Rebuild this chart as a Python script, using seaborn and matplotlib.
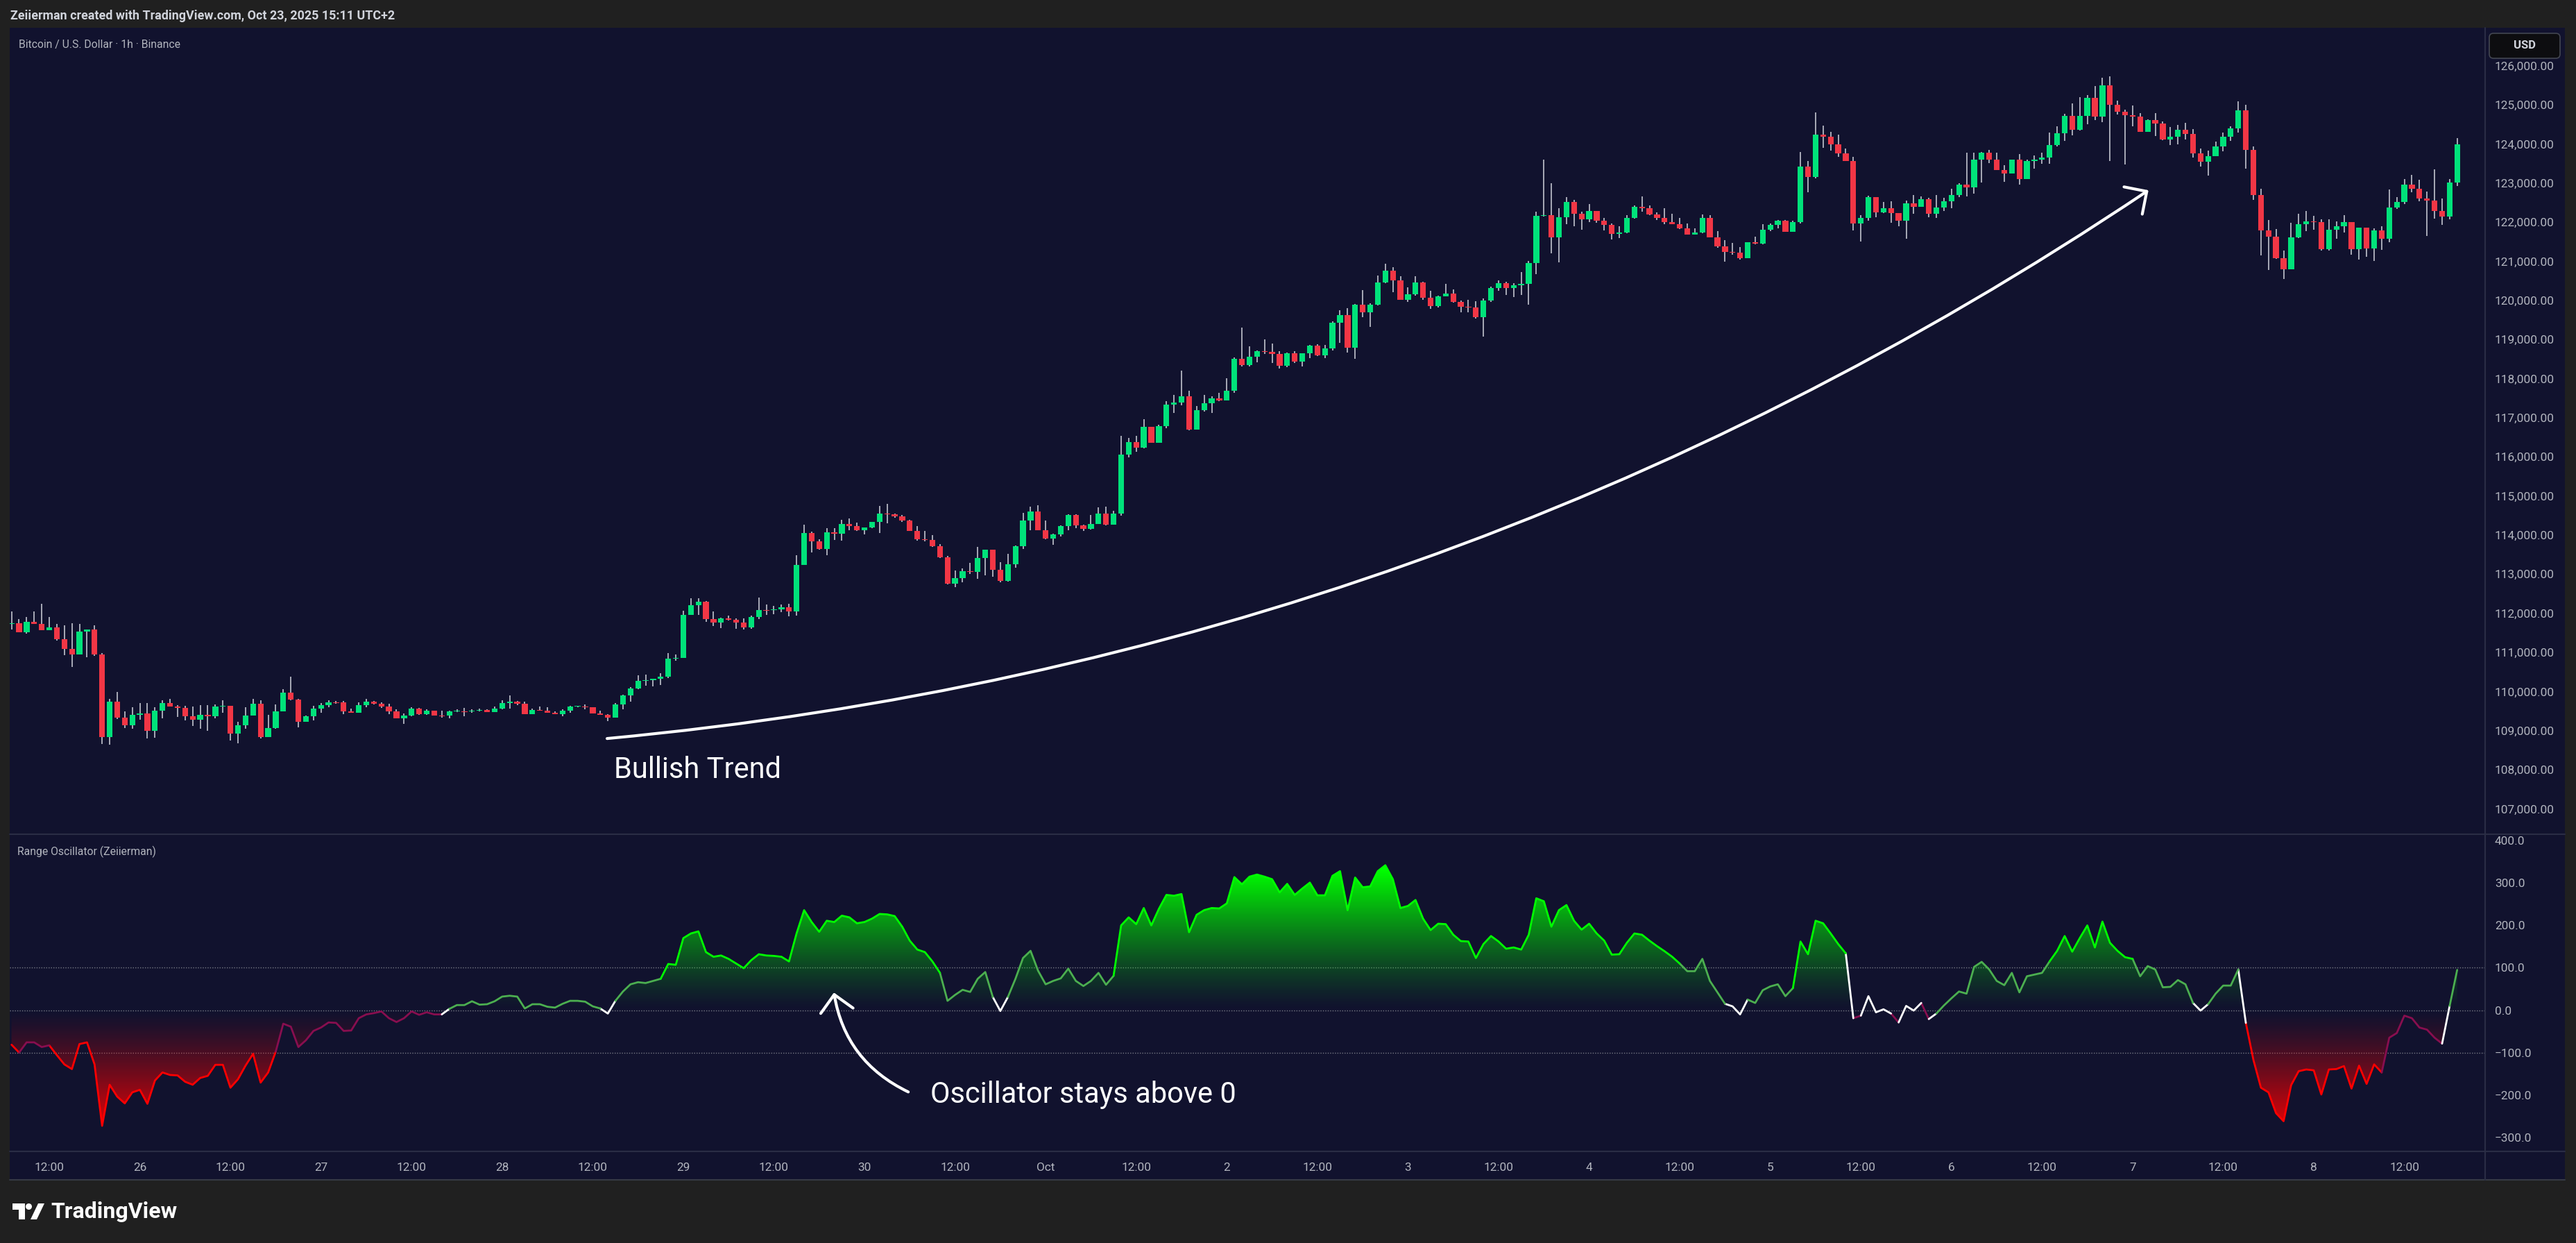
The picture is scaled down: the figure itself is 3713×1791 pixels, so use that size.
import numpy as np
import pandas as pd
import matplotlib
matplotlib.use("Agg")
import matplotlib.pyplot as plt
import seaborn as sns
from matplotlib import transforms
from matplotlib.patches import Rectangle, Circle, Polygon, FancyBboxPatch, PathPatch
from matplotlib.path import Path
from matplotlib.lines import Line2D

# %%
# BTCUSD 1h candles, Sep 25 07:00 -> Oct 8 19:00 (one value per bar)
first_open = 111720
closes = [
  111739, 111520, 111780, 111733, 111573, 111639, 111343, 111094, 110952, 111532,
  111580, 110952, 108840, 109740, 109338, 109136, 109403, 109438, 109000, 109509,
  109704, 109621, 109580, 109367, 109278, 109403, 109367, 109615, 109633, 108929,
  109130, 109379, 109686, 108840, 109059, 109491, 109970, 109799, 109231, 109367,
  109562, 109651, 109722, 109720, 109497, 109462, 109651, 109740, 109686, 109621,
  109497, 109320, 109385, 109562, 109420, 109509, 109390, 109385, 109491, 109500,
  109495, 109510, 109520, 109480, 109562, 109704, 109740, 109692, 109420, 109527,
  109515, 109462, 109420, 109509, 109615, 109620, 109600, 109438, 109403, 109338,
  109669, 109899, 110077, 110266, 110290, 110325, 110385, 110840, 110864, 111960,
  112205, 112292, 111855, 111766, 111867, 111836, 111754, 111640, 111899, 112083,
  112075, 112100, 112159, 112051, 113230, 114054, 113845, 113649, 114067, 114041,
  114282, 114238, 114124, 114194, 114333, 114548, 114530, 114479, 114377, 114111,
  113896, 113883, 113706, 113439, 112755, 112900, 113078, 113053, 113414, 113623,
  113103, 112825, 113249, 113712, 114371, 114599, 114130, 113908, 114010, 114232,
  114510, 114244, 114162, 114282, 114549, 114271, 114549, 116052, 116377, 116241,
  116767, 116365, 116785, 117335, 117389, 117548, 116697, 117194, 117371, 117495,
  117442, 117690, 118506, 118353, 118560, 118702, 118684, 118631, 118335, 118648,
  118442, 118648, 118843, 118595, 118773, 119429, 119624, 118790, 119891, 119695,
  119891, 120458, 120760, 120512, 120015, 120157, 120458, 120068, 119855, 120104,
  120175, 119962, 119837, 119825, 119571, 119997, 120317, 120441, 120317, 120387,
  120423, 120955, 122162, 122180, 121612, 122126, 122517, 122215, 122073, 122286,
  122038, 121931, 121700, 121736, 122109, 122393, 122357, 122198, 122109, 122002,
  121949, 121843, 121683, 121736, 122109, 121612, 121381, 121239, 121225, 121080,
  121488, 121452, 121807, 121931, 122038, 121754, 122002, 123422, 123156, 124238,
  124185, 123990, 123759, 123564, 121967, 122109, 122641, 122251, 122357, 122233,
  122038, 122481, 122393, 122588, 122216, 122375, 122535, 122694, 122960, 122889,
  123599, 123777, 123599, 123333, 123245, 123599, 123102, 123564, 123599, 123653,
  123972, 124274, 124717, 124362, 124717, 125179, 124700, 125498, 125001, 124824,
  124735, 124700, 124309, 124611, 124522, 124114, 124185, 124362, 124256, 123759,
  123546, 123688, 123936, 124185, 124398, 124859, 123848, 122694, 121789, 121630,
  121080, 120796, 121612, 121949, 122020, 122002, 121310, 121807, 121896, 122002,
  121310, 121860, 121328, 121789, 121576, 122375, 122517, 122960, 122854, 122606,
  122552, 122286, 122144, 123014, 123990,
]
highs = [
  112047, 111857, 111905, 112047, 112242, 111905, 111727, 111692, 111745, 111727,
  111591, 111692, 110982, 109817, 109988, 109491, 109598, 109710, 109710, 109598,
  109775, 109805, 109651, 109639, 109621, 109651, 109651, 109669, 109769, 109615,
  109225, 109592, 109805, 109769, 109403, 109669, 110065, 110379, 109811, 109391,
  109627, 109698, 109775, 109757, 109757, 109562, 109728, 109805, 109757, 109728,
  109680, 109550, 109438, 109598, 109580, 109550, 109509, 109509, 109509, 109550,
  109580, 109544, 109556, 109550, 109609, 109781, 109899, 109757, 109740, 109556,
  109609, 109603, 109497, 109544, 109639, 109639, 109669, 109597, 109509, 109420,
  109698, 109911, 110112, 110408, 110432, 110313, 110467, 110982, 110953, 112064,
  112384, 112387, 112318, 112045, 111887, 111944, 111867, 111861, 111944, 112394,
  112229, 112185, 112216, 112248, 113484, 114263, 114086, 113896, 114181, 114181,
  114384, 114422, 114327, 114181, 114333, 114739, 114796, 114549, 114511, 114384,
  114232, 114105, 113991, 113769, 113465, 113091, 113154, 113293, 113693, 113623,
  113610, 113306, 113515, 113737, 114561, 114720, 114764, 114371, 114041, 114244,
  114530, 114530, 114263, 114511, 114715, 114727, 114620, 116537, 116489, 116537,
  116962, 116750, 116827, 117418, 117584, 118205, 117684, 117300, 117578, 117543,
  117637, 118010, 118542, 119305, 118832, 118720, 119004, 118897, 118702, 118673,
  118702, 118643, 118868, 118880, 118868, 119459, 119755, 119802, 119908, 120269,
  119932, 120642, 120938, 120849, 120618, 120334, 120618, 120476, 120245, 120127,
  120417, 120275, 120003, 120015, 119979, 120050, 120346, 120512, 120476, 120435,
  120724, 121008, 122268, 123600, 123000, 122357, 122641, 122564, 122274, 122464,
  122286, 122109, 121961, 121896, 122180, 122428, 122659, 122428, 122251, 122357,
  122216, 122109, 121967, 121849, 122204, 122180, 121766, 121541, 121470, 121364,
  121494, 121630, 121943, 121973, 122062, 122056, 122038, 123794, 123564, 124806,
  124469, 124309, 124238, 123883, 123670, 122180, 122683, 122641, 122517, 122535,
  122233, 122552, 122694, 122659, 122623, 122694, 122623, 122854, 122996, 123777,
  123777, 123795, 123848, 123777, 123458, 123599, 123742, 123599, 123706, 123777,
  124291, 124451, 124771, 125037, 125197, 125250, 125480, 125693, 125729, 125108,
  124877, 124983, 124789, 124629, 124789, 124575, 124433, 124487, 124540, 124380,
  123883, 123830, 124061, 124291, 124451, 125090, 125001, 123936, 122854, 122056,
  121825, 121275, 121985, 122216, 122286, 122162, 122073, 122073, 122020, 122180,
  121985, 121860, 121825, 121843, 121896, 122836, 122641, 123102, 123209, 123085,
  122783, 123351, 122606, 123102, 124149,
]
lows = [
  111591, 111520, 111473, 111733, 111573, 111580, 111295, 110923, 110633, 110952,
  110881, 110911, 108663, 108645, 109296, 109059, 109047, 109284, 108805, 108823,
  109314, 109609, 109343, 109255, 109124, 109047, 108988, 109314, 109450, 108752,
  108681, 109047, 109403, 108800, 108840, 109047, 109491, 109781, 109089, 109225,
  109255, 109450, 109592, 109680, 109420, 109450, 109462, 109598, 109669, 109580,
  109420, 109320, 109166, 109367, 109403, 109403, 109385, 109326, 109308, 109473,
  109367, 109462, 109497, 109473, 109473, 109550, 109568, 109651, 109420, 109420,
  109509, 109491, 109420, 109367, 109462, 109592, 109550, 109438, 109403, 109249,
  109338, 109550, 109746, 110060, 110142, 110124, 110172, 110349, 110793, 110852,
  111958, 111963, 111772, 111677, 111627, 111817, 111595, 111582, 111608, 111855,
  111950, 111975, 112026, 111931, 111944, 113230, 113560, 113623, 113484, 113877,
  113864, 114118, 114105, 114022, 114168, 114054, 114308, 114435, 114333, 114105,
  113851, 113832, 113693, 113420, 112736, 112660, 112799, 113008, 112882, 112977,
  112933, 112799, 112818, 113167, 113649, 114118, 114118, 113889, 113750, 113959,
  114130, 114168, 114105, 114149, 114313, 114242, 114266, 114490, 115981, 116129,
  116223, 116353, 116353, 116738, 117122, 117318, 116679, 117182, 117164, 117122,
  117430, 117448, 117637, 118305, 118305, 118424, 118631, 118394, 118264, 118299,
  118406, 118317, 118524, 118572, 118524, 118720, 118915, 118660, 118512, 119577,
  119329, 119873, 120435, 120216, 120015, 119962, 120127, 120021, 119790, 119814,
  120110, 119950, 119695, 119695, 119536, 119080, 119962, 120252, 120139, 120092,
  120139, 119891, 120671, 122150, 121204, 120979, 121955, 121896, 121807, 122002,
  121990, 121795, 121559, 121588, 121718, 122091, 122268, 122180, 122062, 121955,
  121943, 121825, 121683, 121683, 121718, 121612, 121352, 120997, 121174, 121044,
  121080, 121435, 121435, 121766, 121849, 121754, 121754, 121967, 122771, 123126,
  123907, 123836, 123676, 123564, 121795, 121512, 122032, 122133, 122233, 121990,
  121902, 121576, 122216, 122393, 122133, 122109, 122286, 122357, 122641, 122665,
  122736, 123020, 123511, 123333, 123038, 123262, 122967, 123102, 123375, 123499,
  123493, 123937, 124079, 124221, 124345, 124505, 124611, 124558, 123564, 124753,
  123475, 124451, 124309, 124309, 124203, 124096, 123972, 123990, 124114, 123653,
  123422, 123191, 123706, 123812, 124079, 124291, 123369, 122570, 121151, 120778,
  121062, 120548, 120796, 121594, 121772, 121807, 121275, 121275, 121576, 121736,
  121174, 121044, 121115, 121008, 121293, 121488, 122340, 122464, 122765, 122535,
  121647, 122091, 121931, 122073, 122925,
]

# Range Oscillator values, one per bar
osc = [
  -81.5, -100, -76, -76, -87, -83, -106, -128, -139, -80,
  -76, -128, -273, -176, -204, -220, -194, -188, -221, -166,
  -147, -153, -154, -169, -176, -160, -155, -129, -129, -183,
  -163, -131, -103, -171, -147, -98, -32, -39, -87, -71,
  -49, -41, -29, -30, -49, -48, -19, -10, -7, -3,
  -19, -28, -19, -3, -11, -5, -10, -10, 3, 12,
  12, 21, 13, 14, 21, 32, 34, 32, 4, 14,
  14, 8, 6, 15, 22, 22, 20, 9, 4, -8,
  22, 44, 61, 66, 64, 69, 74, 109, 107, 170,
  181, 186, 137, 126, 129, 121, 110, 99, 118, 132,
  129, 128, 126, 115, 181, 236, 208, 185, 211, 208,
  223, 219, 205, 208, 216, 227, 226, 222, 197, 164,
  143, 137, 115, 88, 22, 36, 48, 43, 74, 90,
  31, -2, 31, 74, 123, 140, 93, 61, 69, 75,
  98, 69, 57, 69, 88, 60, 81, 200, 219, 203,
  241, 200, 239, 272, 270, 274, 184, 225, 236, 241,
  240, 252, 314, 297, 315, 320, 315, 309, 278, 298,
  272, 287, 301, 271, 271, 317, 328, 236, 313, 290,
  292, 328, 342, 309, 241, 246, 260, 216, 189, 204,
  203, 178, 163, 162, 123, 156, 175, 162, 145, 148,
  143, 178, 264, 257, 197, 236, 248, 211, 190, 204,
  181, 164, 131, 132, 159, 181, 178, 164, 151, 139,
  126, 110, 92, 92, 121, 69, 42, 15, 9, -10,
  25, 17, 47, 56, 61, 33, 52, 162, 132, 211,
  205, 181, 156, 134, -19, -13, 33, -5, 2, -8,
  -29, 10, -1, 17, -21, -8, 11, 28, 44, 39,
  102, 114, 96, 69, 59, 88, 42, 80, 84, 88,
  115, 140, 175, 138, 170, 200, 148, 209, 159, 140,
  125, 121, 80, 104, 96, 54, 55, 71, 61, 17,
  -1, 14, 39, 58, 58, 96, -30, -117, -183, -194,
  -243, -262, -177, -144, -140, -142, -199, -140, -139, -132,
  -185, -131, -174, -128, -147, -65, -54, -13, -19, -41,
  -46, -65, -79, 10, 95,
]
# trend state of the oscillator line: bar where each run starts
run_starts = [0, 1, 5, 35, 57, 58, 78, 80, 86, 123,
              130, 132, 146, 221, 227, 230, 236, 243, 244, 245,
              249, 250, 253, 254, 255, 270, 281, 289, 291, 295,
              296, 314, 322, 323]
run_states = ["strong_bear", "weak_bear", "strong_bear", "weak_bear", "neutral",
              "weak_bull", "neutral", "weak_bull", "strong_bull", "weak_bull",
              "neutral", "weak_bull", "strong_bull", "weak_bull", "neutral",
              "weak_bull", "strong_bull", "neutral", "weak_bear", "neutral",
              "weak_bear", "neutral", "weak_bear", "neutral", "weak_bull",
              "strong_bull", "weak_bull", "neutral", "weak_bull", "neutral",
              "strong_bear", "weak_bear", "neutral", "weak_bull"]

time_tick_idx = list(range(5, 325, 12))
time_tick_labels = ["12:00", "26", "12:00", "27", "12:00", "28", "12:00", "29", "12:00",
                    "30", "12:00", "Oct", "12:00", "2", "12:00", "3", "12:00", "4",
                    "12:00", "5", "12:00", "6", "12:00", "7", "12:00", "8", "12:00"]
price_ticks = list(range(107000, 126001, 1000))
osc_ticks = [-300, -200, -100, 0, 100, 200, 300, 400]
osc_levels = [100, 0, -100]

# %%
FRAME = "#202020"
NAVY = "#11122e"
SEP = "#2a2d45"
TXT = "#b2b5be"
UP = "#00e27a"
DOWN = "#f23645"
WICK = "#d1d4dc"
STATE_COLORS = {
  "strong_bull": "#00ff00",
  "weak_bull": "#4caf50",
  "neutral": "#ffffff",
  "weak_bear": "#880e4f",
  "strong_bear": "#ff0000",
}

sns.set_theme(style="dark")
plt.rcParams["font.family"] = ["Roboto", "DejaVu Sans"]

W, H = 3713, 1791
fig = plt.figure(figsize=(W / 100, H / 100), dpi=100)
fig.patch.set_facecolor(FRAME)
PIX = transforms.IdentityTransform()


def box(x0, y0, x1, y1):
  return [x0 / W, 1 - y1 / H, (x1 - x0) / W, (y1 - y0) / H]


def hline(y, x0, x1, color=SEP):
  fig.add_artist(Line2D([x0, x1], [H - y, H - y], transform=PIX, color=color, lw=1.5, zorder=5))


def vline(x, y0, y1, color=SEP):
  fig.add_artist(Line2D([x, x], [H - y0, H - y1], transform=PIX, color=color, lw=1.5, zorder=5))


fig.add_artist(Rectangle((14, H - 1700), 3697 - 14, 1700 - 40, transform=PIX,
                         facecolor=NAVY, edgecolor="none", zorder=-5))

ax_p = fig.add_axes(box(14, 40, 3582, 1201))
ax_o = fig.add_axes(box(14, 1202, 3582, 1659))
for ax in (ax_p, ax_o):
  ax.set_facecolor(NAVY)
  ax.grid(False)
  for s in ax.spines.values():
    s.set_visible(False)

# %%
# candles
idx = np.arange(len(closes))
c = np.array(closes, float)
o = np.r_[first_open, c[:-1]]
h = np.maximum(np.array(highs, float), np.maximum(o, c))
l = np.minimum(np.array(lows, float), np.minimum(o, c))
up = c >= o
body = c - o
body = np.where(np.abs(body) < 18, np.where(up, 18, -18), body)
ax_p.vlines(idx, l, h, color=WICK, lw=1.1, zorder=2)
ax_p.bar(idx, body, bottom=o, width=0.76, color=np.where(up, UP, DOWN), linewidth=0, zorder=3)

ax_p.set_xlim(-0.24, 327.7)
ax_p.set_ylim(106368, 126971)
ax_p.set_xticks([])
ax_p.yaxis.tick_right()
ax_p.set_yticks(price_ticks)
ax_p.set_yticklabels([f"{v:,.2f}" for v in price_ticks])
ax_p.tick_params(axis="y", length=0, pad=10, labelsize=12.4, labelcolor=TXT)

ax_p.annotate(
  "", xy=(283.1, 122816), xytext=(78.9, 108797),
  arrowprops=dict(arrowstyle="->,head_length=0.85,head_width=0.85",
                  connectionstyle="arc3,rad=0.127", color="white", lw=3,
                  shrinkA=0, shrinkB=0, mutation_scale=20),
  annotation_clip=False, zorder=6,
)
ax_p.text(79.8, 107787, "Bullish Trend", fontsize=30, color="white", va="baseline", ha="left", zorder=6)

# %%
# oscillator
y = np.array(osc, float)
ends = run_starts[1:] + [len(osc) - 1]
rows = []
for k, (s, st) in enumerate(zip(run_starts, run_states)):
  for j in range(s, ends[k] + 1):
    rows.append((j, y[j], st, k))
osc_df = pd.DataFrame(rows, columns=["bar", "osc", "state", "run"])


def gradient_fill(ax, positive, rgb, lo, hi, scale):
  where = y >= 0 if positive else y <= 0
  coll = ax.fill_between(idx, 0, y, where=where, interpolate=True, facecolor="none", edgecolor="none")
  path = Path.make_compound_path(*coll.get_paths())
  clip = PathPatch(path, transform=ax.transData, facecolor="none", edgecolor="none")
  ax.add_patch(clip)
  yy = np.linspace(lo, hi, 500)
  img = np.zeros((500, 1, 4))
  img[:, 0, :3] = rgb
  img[:, 0, 3] = np.clip(np.abs(yy) / scale, 0, 1) ** 1.3
  im = ax.imshow(img, extent=(-0.24, 327.7, lo, hi), origin="lower", aspect="auto",
                 interpolation="bilinear", zorder=1)
  im.set_clip_path(clip)


gradient_fill(ax_o, True, (0, 1, 0), 0, 415, 330)
gradient_fill(ax_o, False, (1, 0, 0), -335, 0, 300)

for v in osc_levels:
  ax_o.axhline(v, color="#787b86", lw=1.0, ls=(0, (1, 1.5)), zorder=0.5)

sns.lineplot(data=osc_df, x="bar", y="osc", hue="state", units="run", estimator=None,
             palette=STATE_COLORS, legend=False, linewidth=2.0, ax=ax_o, zorder=4)
ax_o.set_xlabel("")
ax_o.set_ylabel("")
ax_o.set_xlim(-0.24, 327.7)
ax_o.set_ylim(-333.3, 415.2)
ax_o.yaxis.tick_right()
ax_o.set_yticks(osc_ticks)
ax_o.set_yticklabels([f"{v:.1f}".replace("-", "\u2212") for v in osc_ticks])
ax_o.set_xticks(time_tick_idx)
ax_o.set_xticklabels(time_tick_labels)
ax_o.tick_params(axis="y", length=0, pad=10, labelsize=12.4, labelcolor=TXT)
ax_o.tick_params(axis="x", length=0, pad=11.2, labelsize=12.4, labelcolor=TXT)

ax_o.annotate(
  "", xy=(108.95, 41.5), xytext=(118.8, -193),
  arrowprops=dict(arrowstyle="->,head_length=0.85,head_width=0.85",
                  connectionstyle="arc3,rad=-0.26", color="white", lw=3,
                  shrinkA=0, shrinkB=0, mutation_scale=20),
  annotation_clip=False, zorder=6,
)
ax_o.text(121.7, -219, "Oscillator stays above 0", fontsize=30, color="white", va="baseline", ha="left", zorder=6)

# %%
# frame, separators, header texts
hline(1201.5, 14, 3697)
hline(1659, 14, 3697)
hline(1700, 14, 3697, color="#363a45")
vline(3582, 40, 1700)

fig.text(15, H - 23, "Zeiierman created with TradingView.com, Oct 23, 2025 15:11 UTC+2",
         transform=PIX, fontsize=12.9, fontweight="bold", color="#d1d4dc", va="center", ha="left")
fig.text(27, H - 65, "Bitcoin / U.S. Dollar \u00b7 1h \u00b7 Binance",
         transform=PIX, fontsize=11.3, color=TXT, va="center", ha="left")
fig.text(25, H - 1227, "Range Oscillator (Zeiierman)",
         transform=PIX, fontsize=11.3, color=TXT, va="center", ha="left")

fig.add_artist(FancyBboxPatch((3588, H - 84), 102, 36, boxstyle="round,pad=0,rounding_size=6",
                              transform=PIX, facecolor="#0d0d10", edgecolor="#434651", lw=1.2, zorder=6))
fig.text(3639, H - 66, "USD", transform=PIX, fontsize=12, fontweight="bold", color="#d1d4dc",
         va="center", ha="center", zorder=7)

# TradingView logo
fig.add_artist(Polygon([(18, H - 1734), (36, H - 1734), (36, H - 1757), (27, H - 1757),
                        (27, H - 1743), (18, H - 1743)], closed=True, transform=PIX,
                       facecolor="white", edgecolor="none"))
fig.add_artist(Circle((41.5, H - 1738.5), 4.5, transform=PIX, facecolor="white", edgecolor="none"))
fig.add_artist(Polygon([(44, H - 1757), (53, H - 1757), (64, H - 1734), (55, H - 1734)],
                       closed=True, transform=PIX, facecolor="white", edgecolor="none"))
fig.text(73, H - 1746, "TradingView", transform=PIX, fontsize=23, fontweight="bold",
         color="white", va="center", ha="left")

plt.savefig("out.png", dpi=100, facecolor=FRAME)
